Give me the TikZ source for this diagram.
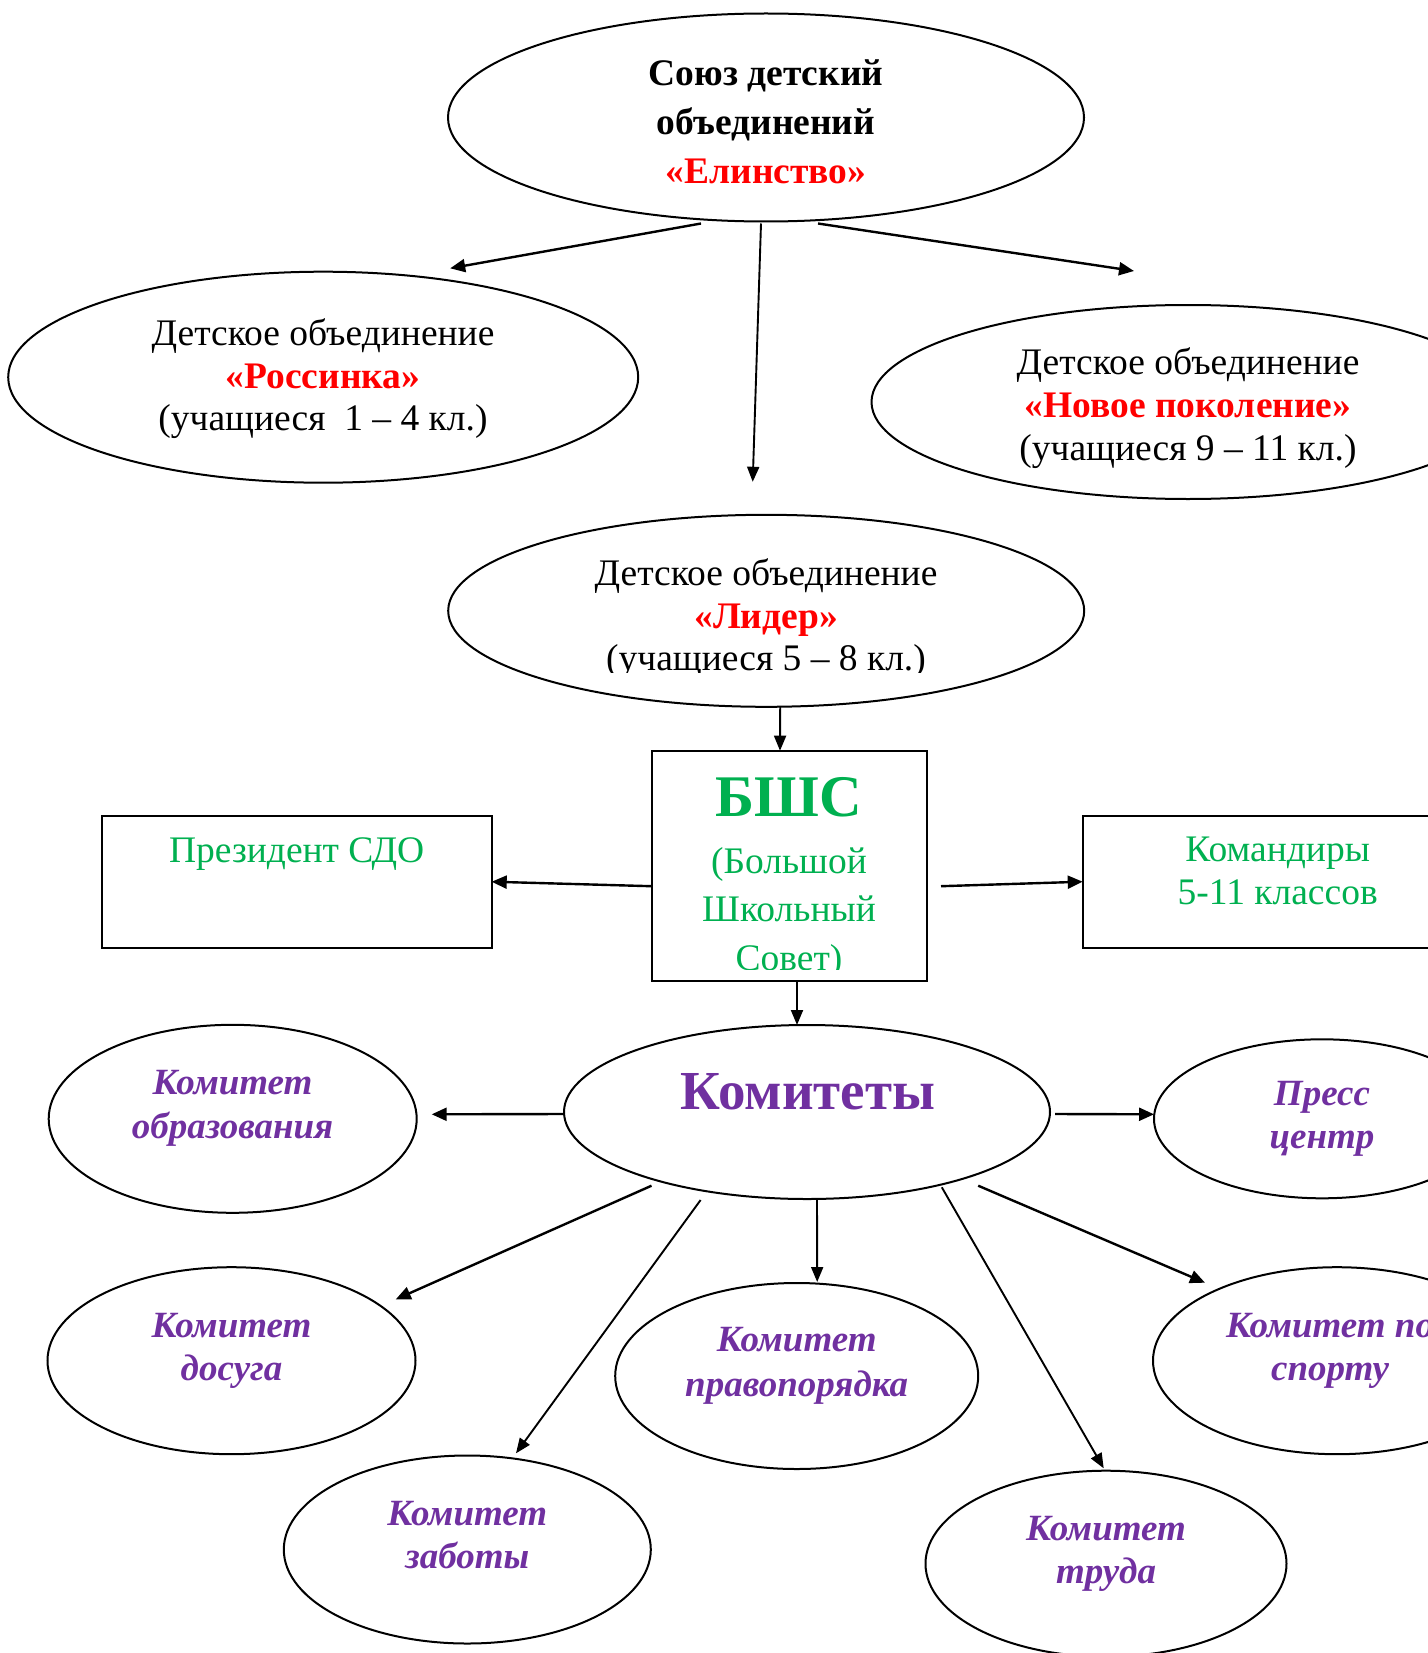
\documentclass[tikz,border=0pt]{standalone}
\usepackage{fontspec}
\setmainfont{Liberation Serif}
\usetikzlibrary{shapes.geometric,arrows.meta,calc}
\definecolor{redc}{HTML}{FF0000}
\definecolor{grn}{HTML}{00B050}
\definecolor{purp}{HTML}{7030A0}
\begin{document}
\begin{tikzpicture}[x=1pt,y=-1pt,
  ell/.style={ellipse,draw,line width=2pt,inner sep=0pt,outer sep=0pt},
  boxn/.style={rectangle,draw,line width=2pt,inner sep=0pt,outer sep=0pt,minimum width=390pt,minimum height=132pt},
  txt/.style={anchor=base,inner sep=0pt,font=\fontsize{37.5}{43}\selectfont},
  txtb/.style={txt,font=\fontsize{37.5}{43}\selectfont\bfseries},
  comm/.style={txt,text=purp,font=\fontsize{37}{43}\selectfont\bfseries\itshape},
  arr/.style={line width=2.4pt,-{Triangle[length=15pt,width=13pt]}},
  arrthin/.style={line width=1.9pt,-{Triangle[length=15pt,width=12pt]}}]
\useasboundingbox (0,0) rectangle (1427,1653);

% ellipses and boxes
\node[ell,minimum width=636pt,minimum height=208pt] (T) at (766,117.5) {};
\node[ell,minimum width=630pt,minimum height=211pt] (R) at (323.2,377.2) {};
\node[ell,minimum width=633pt,minimum height=194pt] (N) at (1188,402) {};
\node[ell,minimum width=636pt,minimum height=192pt] (L) at (766.2,610.8) {};
\node[rectangle,draw,line width=2pt,inner sep=0pt,outer sep=0pt,minimum width=275pt,minimum height=230pt] (B) at (789,865.7) {};
\node[boxn] (P) at (296.7,881.7) {};
\node[boxn] (K) at (1277.7,881.7) {};
\node[ell,minimum width=486pt,minimum height=174pt] (C) at (807,1112) {};
\node[ell,minimum width=368pt,minimum height=188pt] (O) at (232.7,1118.8) {};
\node[ell,minimum width=336pt,minimum height=159pt] (Pr) at (1322,1118.8) {};
\node[ell,minimum width=368pt,minimum height=187pt] (D) at (231.5,1360.7) {};
\node[ell,minimum width=363pt,minimum height=186pt] (Pv) at (796.7,1376) {};
\node[ell,minimum width=368pt,minimum height=187pt] (S) at (1337,1360.7) {};
\node[ell,minimum width=367pt,minimum height=188pt] (Z) at (467.3,1549.5) {};
\node[ell,minimum width=361pt,minimum height=186pt] (Tr) at (1106,1563.7) {};

% texts
\node[txtb] (t1) at (766,86) {Союз детский};
\node[txtb] (t2) at (766,135) {объединений};
\node[txtb,text=redc] (t3) at (766,183.3) {«Елинство»};

\node[txt] (r1) at (323,345) {Детское объединение};
\node[txtb,text=redc] (r2) at (323,388.3) {«Россинка»};
\node[txt] (r3) at (323,430) {(учащиеся\ \ 1 – 4 кл.)};

\node[txt] (n1) at (1188,374) {Детское объединение};
\node[txtb,text=redc] (n2) at (1188,417) {«Новое поколение»};
\node[txt] (n3) at (1188,460) {(учащиеся 9 – 11 кл.)};

\node[txt] (l1) at (766,585) {Детское объединение};
\node[txtb,text=redc] (l2) at (766,628) {«Лидер»};
\begin{scope}
\clip (500,630) rectangle (1030,672);
\node[txt] (l3) at (766,670) {(учащиеся 5 – 8 кл.)};
\end{scope}

\node[txt,text=grn,font=\fontsize{59}{65}\selectfont\bfseries] (b1) at (789,816.7) {БШС};
\node[txt,text=grn] (b2) at (789,873) {(Большой};
\node[txt,text=grn] (b3) at (789,921.7) {Школьный};
\begin{scope}
\clip (660,925) rectangle (920,969);
\node[txt,text=grn] (b4) at (789,970) {Совет)};
\end{scope}

\node[txt,text=grn] (p1) at (296.7,862.7) {Президент СДО};
\node[txt,text=grn] (k1) at (1277.7,861) {Командиры};
\node[txt,text=grn] (k2) at (1277.7,904.3) {5-11 классов};

\node[txt,text=purp,font=\fontsize{55}{60}\selectfont\bfseries] (c1) at (808,1109.3) {Комитеты};

\node[comm] (o1) at (232.6,1094) {Комитет};
\node[comm] (o2) at (232.6,1138.3) {образования};
\node[comm] (pr1) at (1322,1105) {Пресс};
\node[comm] (pr2) at (1322,1148.3) {центр};
\node[comm] (d1) at (231.5,1337.3) {Комитет};
\node[comm] (d2) at (231.5,1380) {досуга};
\node[comm] (pv1) at (796.7,1351.7) {Комитет};
\node[comm] (pv2) at (796.7,1396) {правопорядка};
\node[comm] (s1) at (1330,1337.3) {Комитет по};
\node[comm] (s2) at (1330,1380) {спорту};
\node[comm] (z1) at (467.3,1525.3) {Комитет};
\node[comm] (z2) at (467.3,1568.3) {заботы};
\node[comm] (tr1) at (1106,1540.7) {Комитет};
\node[comm] (tr2) at (1106,1583.3) {труда};

% connectors
\draw[arr] ($(T.south)+(-65,2)$) -- ($(R.north)+(127,-3.4)$);
\draw[arrthin] ($(T.south)+(-5,2)$) -- ($(L.north)+(-13.5,-33)$);
\draw[arr] ($(T.south)+(52,2)$) -- ($(N.north)+(-54,-34)$);
\draw[arrthin] ($(L.south)+(14,0)$) -- ($(B.north)+(-9,0)$);
\draw[arr] ($(B.west)+(0,20.5)$) -- (P.east);
\draw[arr] ($(B.east)+(14.5,20.5)$) -- (K.west);
\draw[arrthin] ($(B.south)+(8,0)$) -- ($(C.north)+(-10,0)$);
\draw[arr] ($(C.west)+(0,2)$) -- ($(O.east)+(15,-4.5)$);
\draw[arr] ($(C.east)+(5,2)$) -- ($(Pr.west)+(0,-4.5)$);
\draw[arr] ($(C.center)+(-155.5,73.7)$) -- ($(D.center)+(164.3,-61.4)$);
\draw[arrthin] ($(C.south)+(-106.4,1)$) -- ($(Z.center)+(48.7,-96.2)$);
\draw[arrthin] ($(C.south)+(10,1)$) -- ($(Pv.north)+(20.5,-1)$);
\draw[arrthin] ($(C.center)+(134.8,75.3)$) -- ($(Tr.north)+(-2.3,-2.4)$);
\draw[arr] ($(C.center)+(171.2,73.7)$) -- ($(S.center)+(-132,-78)$);
\end{tikzpicture}
\end{document}
